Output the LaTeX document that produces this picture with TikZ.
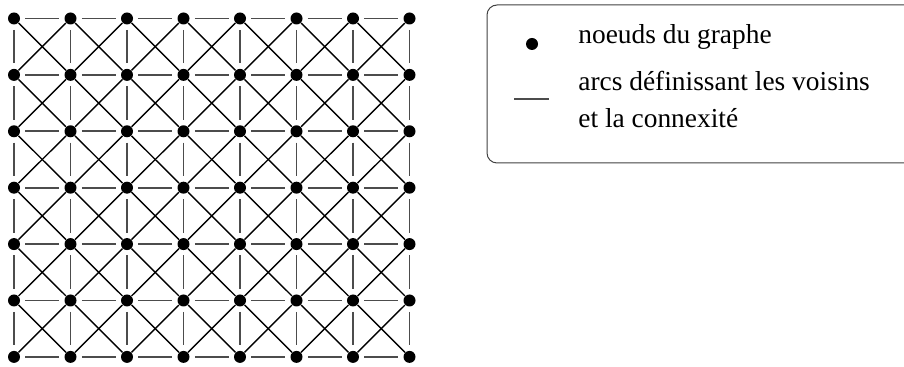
\documentclass[tikz,border=0pt]{standalone}
\usepackage{fontspec}
\setmainfont{Liberation Serif}
\usetikzlibrary{positioning}

\begin{document}
\begin{tikzpicture}[
    x=0.5pt,
    y=-0.5pt,
    font=\fontsize{13.7}{18.5}\selectfont,
    noeud/.style={
        circle,
        fill=black,
        inner sep=0pt,
        minimum size=6pt
    },
    arcdroit/.style={
        line width=0.9pt,
        black!70,
        shorten >=2.5pt,
        shorten <=2.5pt
    },
    arcdiag/.style={
        line width=0.7pt,
        black
    },
    legende/.style={
        draw,
        line width=0.5pt,
        black!75,
        rounded corners=5pt
    },
    texte/.style={
        anchor=base west,
        inner sep=0pt
    }
]

\useasboundingbox (0,0) rectangle (904,367);
\clip (0,0) rectangle (904,367);

% noeuds du graphe
\foreach \i in {0,...,7}
    \foreach \j in {0,...,6}
        \node[noeud] (n-\i-\j) at ({14+56.5*\i},{18.5+56.4*\j}) {};

% arcs horizontaux
\foreach \i [count=\k from 1] in {0,...,6}
    \foreach \j in {0,...,6}
        \draw[arcdroit] (n-\i-\j) -- (n-\k-\j);

% arcs verticaux
\foreach \i in {0,...,7}
    \foreach \j [count=\l from 1] in {0,...,5}
        \draw[arcdroit] (n-\i-\j) -- (n-\i-\l);

% arcs diagonaux
\foreach \i [count=\k from 1] in {0,...,6}
    \foreach \j [count=\l from 1] in {0,...,5} {
        \draw[arcdiag] (n-\i-\j) -- (n-\k-\l);
        \draw[arcdiag] (n-\k-\j) -- (n-\i-\l);
    }

% legende
\draw[legende] (487,5) rectangle (940,163);
\node[noeud] (legnoeud) at (532,44) {};
\coordinate (legarcA) at (514,99);
\coordinate (legarcB) at (549,99);
\draw[line width=0.9pt, black!70] (legarcA) -- (legarcB);
\node[texte] (txtnoeud) at (578,43.3) {noeuds du graphe};
\node[texte] (txtarc) at (578,91) {arcs définissant les voisins};
\node[texte] (txtconn) at (578,128) {et la connexité};

\end{tikzpicture}
\end{document}
